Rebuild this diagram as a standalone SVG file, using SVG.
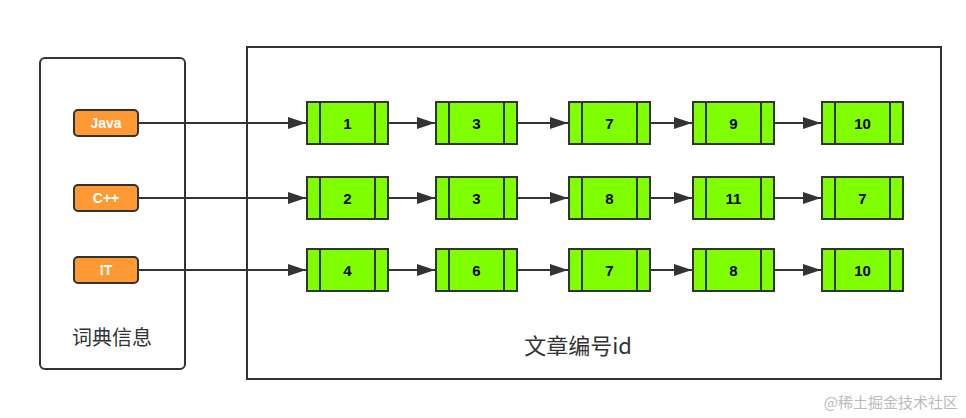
<svg xmlns="http://www.w3.org/2000/svg" width="966" height="418" viewBox="0 0 966 418">
<style>
.box{fill:#fff;stroke:#333;stroke-width:2}
.tag{fill:#ff9933;stroke:#333;stroke-width:2}
.tagt{font-family:"Liberation Sans",sans-serif;font-weight:bold;font-size:14px;fill:#fff;text-anchor:middle}
.n{fill:#80ff00;stroke:#333;stroke-width:2}
.nt{font-family:"Liberation Sans",sans-serif;font-weight:bold;font-size:15px;fill:#000;text-anchor:middle}
.c{stroke:#333;stroke-width:2;fill:none;marker-end:url(#a)}
.lbl{font-family:"Noto Sans CJK SC","Liberation Sans",sans-serif;fill:#333;text-anchor:middle}
</style>
<defs>
<marker id="a" markerWidth="18" markerHeight="12" refX="18" refY="6" orient="auto" markerUnits="userSpaceOnUse"><path d="M0,0 L18,6 L0,12 Z" fill="#333"/></marker>
<g id="node"><rect class="n" x="0" y="0" width="81" height="42"/><line x1="13" y1="0" x2="13" y2="42" stroke="#333" stroke-width="2"/><line x1="68" y1="0" x2="68" y2="42" stroke="#333" stroke-width="2"/></g>
</defs>
<rect width="966" height="418" fill="#fff"/>
<g id="dict"><rect class="box" x="40" y="58" width="145" height="311" rx="5"/><text class="lbl" x="112" y="345" font-size="20">词典信息</text></g>
<g id="docs"><rect class="box" x="247" y="47" width="694" height="332"/><text class="lbl" x="578" y="354" font-size="22">文章编号id</text></g>
<g id="connectors">
<line class="c" x1="138" y1="123" x2="306" y2="123"/>
<line class="c" x1="138" y1="198" x2="306" y2="198"/>
<line class="c" x1="138" y1="270" x2="306" y2="270"/>
<g id="row-arrows">
<line class="c" x1="388" y1="123" x2="435" y2="123"/><line class="c" x1="517" y1="123" x2="568" y2="123"/><line class="c" x1="650" y1="123" x2="692" y2="123"/><line class="c" x1="774" y1="123" x2="821" y2="123"/>
<line class="c" x1="388" y1="198" x2="435" y2="198"/><line class="c" x1="517" y1="198" x2="568" y2="198"/><line class="c" x1="650" y1="198" x2="692" y2="198"/><line class="c" x1="774" y1="198" x2="821" y2="198"/>
<line class="c" x1="388" y1="270" x2="435" y2="270"/><line class="c" x1="517" y1="270" x2="568" y2="270"/><line class="c" x1="650" y1="270" x2="692" y2="270"/><line class="c" x1="774" y1="270" x2="821" y2="270"/>
</g>
</g>
<g id="tag-java"><rect class="tag" x="74" y="110" width="64" height="26" rx="4"/><text class="tagt" x="106" y="128">Java</text></g>
<g id="tag-cpp"><rect class="tag" x="74" y="185" width="64" height="26" rx="4"/><text class="tagt" x="106" y="203">C++</text></g>
<g id="tag-it"><rect class="tag" x="74" y="257" width="64" height="26" rx="4"/><text class="tagt" x="106" y="275">IT</text></g>
<g id="r1">
<g id="n11" transform="translate(307,102)"><use href="#node"/><text class="nt" x="40.5" y="27">1</text></g>
<g id="n12" transform="translate(436,102)"><use href="#node"/><text class="nt" x="40.5" y="27">3</text></g>
<g id="n13" transform="translate(569,102)"><use href="#node"/><text class="nt" x="40.5" y="27">7</text></g>
<g id="n14" transform="translate(693,102)"><use href="#node"/><text class="nt" x="40.5" y="27">9</text></g>
<g id="n15" transform="translate(822,102)"><use href="#node"/><text class="nt" x="40.5" y="27">10</text></g>
</g>
<g id="r2">
<g id="n21" transform="translate(307,177)"><use href="#node"/><text class="nt" x="40.5" y="27">2</text></g>
<g id="n22" transform="translate(436,177)"><use href="#node"/><text class="nt" x="40.5" y="27">3</text></g>
<g id="n23" transform="translate(569,177)"><use href="#node"/><text class="nt" x="40.5" y="27">8</text></g>
<g id="n24" transform="translate(693,177)"><use href="#node"/><text class="nt" x="40.5" y="27">11</text></g>
<g id="n25" transform="translate(822,177)"><use href="#node"/><text class="nt" x="40.5" y="27">7</text></g>
</g>
<g id="r3">
<g id="n31" transform="translate(307,249)"><use href="#node"/><text class="nt" x="40.5" y="27">4</text></g>
<g id="n32" transform="translate(436,249)"><use href="#node"/><text class="nt" x="40.5" y="27">6</text></g>
<g id="n33" transform="translate(569,249)"><use href="#node"/><text class="nt" x="40.5" y="27">7</text></g>
<g id="n34" transform="translate(693,249)"><use href="#node"/><text class="nt" x="40.5" y="27">8</text></g>
<g id="n35" transform="translate(822,249)"><use href="#node"/><text class="nt" x="40.5" y="27">10</text></g>
</g>
<text x="958" y="408" font-family="Noto Sans CJK SC,sans-serif" font-size="15" fill="#bbb" text-anchor="end">@稀土掘金技术社区</text>
</svg>
